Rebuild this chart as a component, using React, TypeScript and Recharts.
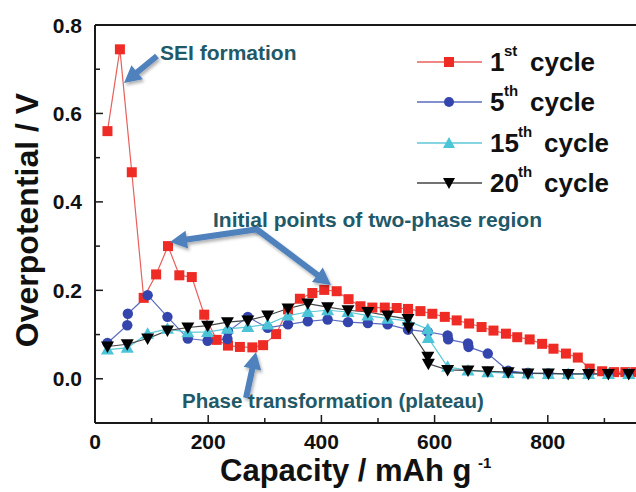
import React from 'react';
import { LineChart, Line, XAxis, YAxis, ReferenceLine } from 'recharts';

// capacity (mAh/g) and overpotential (V)
const cycle1X = [22, 44, 65, 86, 108, 129, 149, 171, 193, 215, 235, 256, 278, 297, 320, 341, 362, 384, 405, 427, 448, 469, 490, 512, 533, 553, 575, 596, 618, 639, 661, 683, 704, 726, 746, 768, 790, 810, 832, 853, 874, 896, 917, 937, 955];
const cycle1Y = [0.56, 0.745, 0.467, 0.183, 0.236, 0.3, 0.234, 0.23, 0.145, 0.088, 0.075, 0.072, 0.071, 0.076, 0.101, 0.157, 0.181, 0.194, 0.201, 0.198, 0.18, 0.164, 0.161, 0.161, 0.16, 0.158, 0.153, 0.147, 0.14, 0.132, 0.125, 0.117, 0.109, 0.102, 0.094, 0.089, 0.079, 0.068, 0.057, 0.048, 0.023, 0.017, 0.015, 0.015, 0.015];

const cycle5X = [22, 57, 58, 93, 128, 164, 199, 234, 235, 270, 305, 341, 376, 411, 447, 482, 517, 553, 588, 623, 624, 659, 660, 694, 730, 765, 801, 836, 872, 907, 943];
const cycle5Y = [0.081, 0.121, 0.147, 0.189, 0.14, 0.091, 0.086, 0.09, 0.107, 0.14, 0.115, 0.123, 0.13, 0.134, 0.128, 0.126, 0.123, 0.111, 0.106, 0.098, 0.089, 0.08, 0.072, 0.057, 0.018, 0.013, 0.012, 0.011, 0.011, 0.011, 0.011];

const cycle15X = [22, 57, 93, 128, 164, 199, 234, 270, 305, 341, 376, 411, 447, 482, 517, 553, 588, 589, 623, 659, 694, 730, 765, 801, 836, 872, 907, 943];
const cycle15Y = [0.066, 0.07, 0.102, 0.113, 0.105, 0.106, 0.113, 0.117, 0.123, 0.143, 0.151, 0.155, 0.151, 0.143, 0.136, 0.131, 0.112, 0.092, 0.027, 0.019, 0.015, 0.013, 0.012, 0.011, 0.011, 0.011, 0.011, 0.011];

const cycle20X = [22, 57, 93, 128, 164, 199, 234, 270, 305, 341, 376, 411, 447, 482, 517, 553, 554, 588, 589, 623, 659, 694, 730, 765, 801, 836, 872, 907, 943];
const cycle20Y = [0.073, 0.078, 0.091, 0.109, 0.116, 0.12, 0.128, 0.132, 0.143, 0.159, 0.17, 0.162, 0.155, 0.151, 0.143, 0.135, 0.116, 0.05, 0.034, 0.02, 0.019, 0.017, 0.015, 0.012, 0.012, 0.011, 0.011, 0.011, 0.011];

const xTicks = [0, 100, 200, 300, 400, 500, 600, 700, 800, 900];
const yTicks = [0, 0.1, 0.2, 0.3, 0.4, 0.5, 0.6, 0.7, 0.8];

const toPoints = (xs: number[], ys: number[]) => xs.map((x, i) => ({ x, y: ys[i] }));

const FONT = '"Liberation Sans", Arial, Helvetica, sans-serif';
const AXIS = '#1a1a1a';
const ARROW = '#4f81bd';
const NOTE = '#215968';

const RED = '#ee2b24';
const BLUE = '#3446ad';
const CYAN = '#4cc4d8';
const BLACK = '#000000';

const SquareDot = (p: any) =>
  p.cx == null ? null : <rect key={`sq-${p.index}`} x={p.cx - 5} y={p.cy - 5} width={10} height={10} fill={RED} />;
const CircleDot = (p: any) =>
  p.cx == null ? null : <circle key={`ci-${p.index}`} cx={p.cx} cy={p.cy} r={5.2} fill={BLUE} />;
const UpDot = (p: any) =>
  p.cx == null ? null : (
    <polygon key={`up-${p.index}`} points={`${p.cx},${p.cy - 6.5} ${p.cx + 6.5},${p.cy + 5} ${p.cx - 6.5},${p.cy + 5}`} fill={CYAN} />
  );
const DownDot = (p: any) =>
  p.cx == null ? null : (
    <polygon key={`dn-${p.index}`} points={`${p.cx - 6.5},${p.cy - 5} ${p.cx + 6.5},${p.cy - 5} ${p.cx},${p.cy + 6.5}`} fill={BLACK} />
  );

const XTick = (props: any) => {
  const { x, y, payload } = props;
  const major = payload.value % 200 === 0;
  return (
    <g>
      <line x1={x} y1={y} x2={x} y2={y - (major ? 8 : 5)} stroke={AXIS} strokeWidth={1.5} />
      {major && (
        <text x={x} y={y + 26} textAnchor="middle" fontSize={21} fontWeight="bold" fontFamily={FONT} fill="#111">
          {payload.value}
        </text>
      )}
    </g>
  );
};

const YTick = (props: any) => {
  const { x, y, payload } = props;
  const major = Math.round(payload.value * 10) % 2 === 0;
  return (
    <g>
      <line x1={x} y1={y} x2={x + (major ? 8 : 5)} y2={y} stroke={AXIS} strokeWidth={1.5} />
      {major && (
        <text x={x - 13} y={y + 7.5} textAnchor="end" fontSize={21} fontWeight="bold" fontFamily={FONT} fill="#111">
          {payload.value.toFixed(1)}
        </text>
      )}
    </g>
  );
};

function arrowPoints(x1: number, y1: number, x2: number, y2: number, w = 6, hl = 17, hw = 18) {
  const dx = x2 - x1;
  const dy = y2 - y1;
  const len = Math.hypot(dx, dy);
  const ux = dx / len;
  const uy = dy / len;
  const nx = -uy;
  const ny = ux;
  const bx = x2 - ux * hl;
  const by = y2 - uy * hl;
  const pts = [
    [x1 + (nx * w) / 2, y1 + (ny * w) / 2],
    [bx + (nx * w) / 2, by + (ny * w) / 2],
    [bx + (nx * hw) / 2, by + (ny * hw) / 2],
    [x2, y2],
    [bx - (nx * hw) / 2, by - (ny * hw) / 2],
    [bx - (nx * w) / 2, by - (ny * w) / 2],
    [x1 - (nx * w) / 2, y1 - (ny * w) / 2],
  ];
  return pts.map((p) => p.join(',')).join(' ');
}

const Arrow = ({ x1, y1, x2, y2 }: { x1: number; y1: number; x2: number; y2: number }) => (
  <polygon points={arrowPoints(x1, y1, x2, y2)} fill={ARROW} filter="url(#shadow)" />
);

const legendRows = [
  { num: '1', sup: 'st', color: RED, lineColor: '#e8605c', shape: 'square', base: 71, supX: 504, wordX: 530 },
  { num: '5', sup: 'th', color: BLUE, lineColor: '#5a6bc0', shape: 'circle', base: 111, supX: 504, wordX: 530 },
  { num: '15', sup: 'th', color: CYAN, lineColor: '#5cc8d8', shape: 'up', base: 152, supX: 518, wordX: 544 },
  { num: '20', sup: 'th', color: BLACK, lineColor: '#444', shape: 'down', base: 192, supX: 518, wordX: 544 },
];

function LegendMarker({ shape, color, cx, cy }: any) {
  if (shape === 'square') return <rect x={cx - 5} y={cy - 5} width={10} height={10} fill={color} />;
  if (shape === 'circle') return <circle cx={cx} cy={cy} r={5} fill={color} />;
  if (shape === 'up') return <polygon points={`${cx},${cy - 6} ${cx + 6},${cy + 5} ${cx - 6},${cy + 5}`} fill={color} />;
  return <polygon points={`${cx - 6},${cy - 5} ${cx + 6},${cy - 5} ${cx},${cy + 6}`} fill={color} />;
}

export default function App() {
  return (
    <div style={{ position: 'fixed', left: 0, top: 0, width: 636, height: 492, overflow: 'hidden', background: '#fff' }}>
      <LineChart width={680} height={492} margin={{ top: 25, right: 19, left: 0, bottom: 0 }}>
        <XAxis
          type="number"
          dataKey="x"
          domain={[0, 1000]}
          ticks={xTicks}
          interval={0}
          allowDataOverflow
          height={69}
          tickSize={0}
          tickMargin={0}
          tickLine={false}
          tick={<XTick />}
          axisLine={{ stroke: AXIS, strokeWidth: 2 }}
        />
        <YAxis
          type="number"
          dataKey="y"
          domain={[-0.1, 0.8]}
          ticks={yTicks}
          interval={0}
          allowDataOverflow
          width={95}
          tickSize={0}
          tickMargin={0}
          tickLine={false}
          tick={<YTick />}
          axisLine={{ stroke: AXIS, strokeWidth: 2 }}
        />
        <ReferenceLine y={0.8} stroke={AXIS} strokeWidth={2} />
        <Line data={toPoints(cycle1X, cycle1Y)} dataKey="y" stroke="#e8605c" strokeWidth={1.2} dot={SquareDot} isAnimationActive={false} />
        <Line data={toPoints(cycle5X, cycle5Y)} dataKey="y" stroke="#5a6bc0" strokeWidth={1.2} dot={CircleDot} isAnimationActive={false} />
        <Line data={toPoints(cycle15X, cycle15Y)} dataKey="y" stroke="#5cc8d8" strokeWidth={1.2} dot={UpDot} isAnimationActive={false} />
        <Line data={toPoints(cycle20X, cycle20Y)} dataKey="y" stroke="#444" strokeWidth={1.2} dot={DownDot} isAnimationActive={false} />
      </LineChart>

      <svg width={636} height={492} style={{ position: 'absolute', left: 0, top: 0, pointerEvents: 'none' }} fontFamily={FONT}>
        <defs>
          <filter id="shadow" x="-30%" y="-30%" width="160%" height="160%">
            <feDropShadow dx="1.5" dy="2.5" stdDeviation="1.5" floodColor="#000" floodOpacity="0.3" />
          </filter>
        </defs>

        <text transform="translate(38,220) rotate(-90)" textAnchor="middle" fontSize={32} fontWeight="bold" fill="#111">
          Overpotential / V
        </text>
        <text x={220} y={481} fontSize={31} fontWeight="bold" fill="#111">
          Capacity / mAh g
        </text>
        <text x={478} y={468} fontSize={15} fontWeight="bold" fill="#111">
          -1
        </text>

        {legendRows.map((r) => (
          <g key={r.num}>
            <line x1={417} x2={482} y1={r.base - 9} y2={r.base - 9} stroke={r.lineColor} strokeWidth={1.3} />
            <LegendMarker shape={r.shape} color={r.color} cx={449} cy={r.base - 9} />
            <text x={490} y={r.base} fontSize={26} fontWeight="bold" fill="#111">{r.num}</text>
            <text x={r.supX} y={r.base - 15} fontSize={15} fontWeight="bold" fill="#111">{r.sup}</text>
            <text x={r.wordX} y={r.base} fontSize={26} fontWeight="bold" fill="#111">cycle</text>
          </g>
        ))}

        <Arrow x1={157} y1={56} x2={124} y2={83} />
        <Arrow x1={259} y1={229} x2={170} y2={242} />
        <Arrow x1={255} y1={228} x2={331} y2={285} />
        <Arrow x1={246} y1={398} x2={256} y2={352} />

        <text x={160} y={60} fontSize={21} fontWeight="bold" fill={NOTE}>SEI formation</text>
        <text x={213} y={227} fontSize={21} fontWeight="bold" fill={NOTE}>Initial points of two-phase region</text>
        <text x={182} y={408} fontSize={20.5} fontWeight="bold" fill={NOTE}>Phase transformation (plateau)</text>
      </svg>
    </div>
  );
}
